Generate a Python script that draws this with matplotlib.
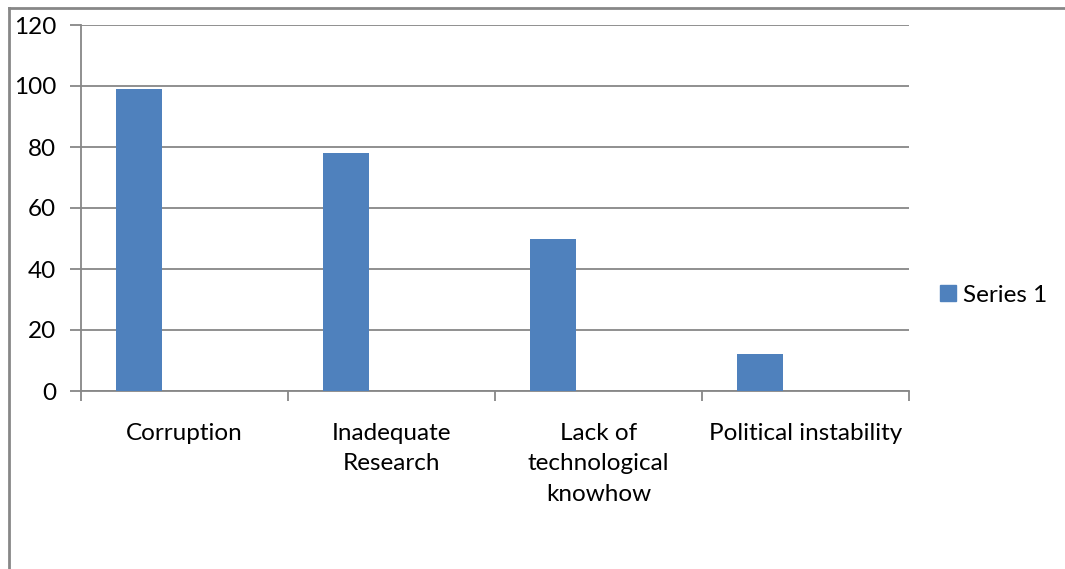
import matplotlib.pyplot as plt
from matplotlib.lines import Line2D
from matplotlib.patches import Patch

categories = ["Corruption", "Inadequate\nResearch", "Lack of\ntechnological\nknowhow", "Political instability"]
series_1 = [99, 78, 50, 12]
y_ticks = [0, 20, 40, 60, 80, 100, 120]

plt.rcParams['font.family'] = ['Lato', 'DejaVu Sans']
bar_color = '#4F81BD'
grid_color = '#878787'
fs = 17.5

fig = plt.figure(figsize=(10.65, 5.69), dpi=100)
W, H = 1065, 569
ax = fig.add_axes([81 / W, 1 - 391 / H, (909 - 81) / W, (391 - 25) / H])

x = list(range(len(categories)))
ax.bar([i - 0.22 for i in x], series_1, width=0.222, color=bar_color, zorder=3)

ax.set_xlim(-0.5, 3.5)
ax.set_ylim(0, 120)
ax.set_yticks(y_ticks)
ax.set_yticklabels([str(t) for t in y_ticks], fontsize=fs)
ax.yaxis.grid(True, color=grid_color, linewidth=1.3, zorder=0)

# category boundaries as ticks, labels centred in each slot
ax.set_xticks([-0.5, 0.5, 1.5, 2.5, 3.5])
ax.set_xticklabels([])
ax.set_xticks(x, minor=True)
ax.set_xticklabels(categories, minor=True, fontsize=fs, linespacing=1.55, va='top')
ax.tick_params(axis='x', which='major', length=7, width=1.3, color=grid_color, direction='out')
ax.tick_params(axis='x', which='minor', length=0, pad=23)
ax.tick_params(axis='y', length=8, width=1.3, color=grid_color, pad=10)

for s in ['top', 'right']:
    ax.spines[s].set_visible(False)
for s in ['left', 'bottom']:
    ax.spines[s].set_color(grid_color)
    ax.spines[s].set_linewidth(1.3)

leg = fig.legend(handles=[Patch(color=bar_color, label='Series 1')],
                 loc='center left', bbox_to_anchor=(918 / W, 1 - 295 / H),
                 frameon=False, fontsize=fs, handlelength=0.65, handleheight=0.65,
                 handletextpad=0.3)

# outer chart border (only left and top visible)
fig.add_artist(Line2D([9 / W, 9 / W], [0, 1 - 8 / H], transform=fig.transFigure,
                      color=grid_color, linewidth=2))
fig.add_artist(Line2D([9 / W, 1], [1 - 8 / H, 1 - 8 / H], transform=fig.transFigure,
                      color=grid_color, linewidth=2))

fig.savefig('out.png', dpi=100)
